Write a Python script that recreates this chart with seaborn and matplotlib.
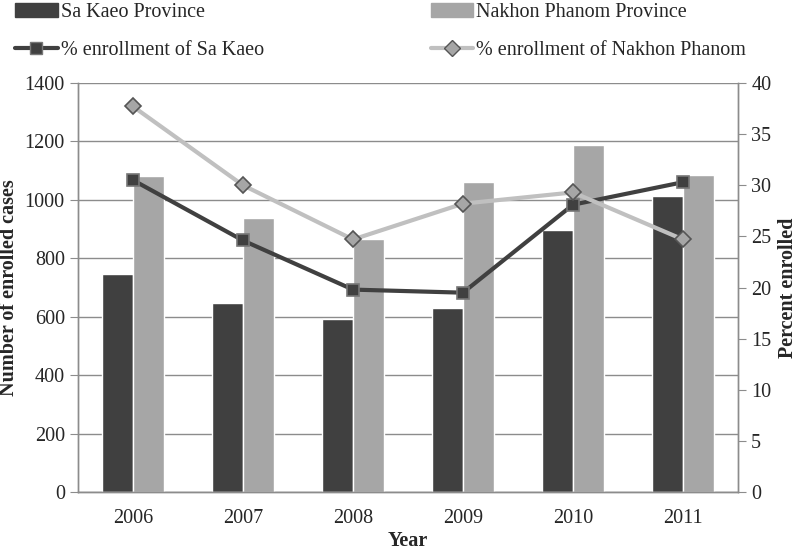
import matplotlib

matplotlib.use("Agg")
import matplotlib.pyplot as plt
import numpy as np
import pandas as pd
import seaborn as sns
from matplotlib.lines import Line2D
from matplotlib.patches import Patch


years = ["2006", "2007", "2008", "2009", "2010", "2011"]
sa_kaeo_cases = [746, 647, 592, 630, 898, 1013]
nakhon_cases = [1083, 938, 866, 1062, 1188, 1086]
sa_kaeo_pct = [30.5, 24.6, 19.8, 19.5, 28.1, 30.3]
nakhon_pct = [37.7, 30.0, 24.7, 28.2, 29.3, 24.7]

bar_names = ["Sa Kaeo Province", "Nakhon Phanom Province"]
line_names = ["% enrollment of Sa Kaeo", "% enrollment of Nakhon Phanom"]

dark = "#404040"
light = "#a6a6a6"
line_light = "#c0c0c0"
grid_col = "#8c8c8c"
fs = 14.5


def main() -> None:
    sns.set_style("white")
    plt.rcParams["font.family"] = ["Liberation Serif", "DejaVu Serif"]

    cases = pd.DataFrame({
        "Year": years * 2,
        "cases": sa_kaeo_cases + nakhon_cases,
        "series": [bar_names[0]] * len(years) + [bar_names[1]] * len(years),
    })
    pct = pd.DataFrame({
        "Year": years * 2,
        "pct": sa_kaeo_pct + nakhon_pct,
        "series": [line_names[0]] * len(years) + [line_names[1]] * len(years),
    })

    fig = plt.figure(figsize=(8, 5.53), dpi=100)
    ax = fig.add_axes([0.0975, 0.11, 0.825, 0.74])

    sns.barplot(data=cases, x="Year", y="cases", hue="series", order=years,
                palette=[dark, light], width=0.57, gap=0, saturation=1,
                errorbar=None, ax=ax, legend=False, zorder=2)
    ax.set_ylim(0, 1400)
    ax.set_yticks(range(0, 1401, 200))
    ax.yaxis.grid(True, color=grid_col, linewidth=1.0, zorder=0)
    ax.set_axisbelow(True)

    ax2 = ax.twinx()
    sns.pointplot(data=pct, x="Year", y="pct", hue="series", order=years,
                  palette=[dark, line_light], markers=["s", "D"],
                  linestyles=["-", "-"], errorbar=None, ax=ax2, legend=False)
    ax2.set_ylim(0, 40)
    ax2.set_yticks(range(0, 41, 5))

    styles = [
        dict(color=dark, mfc=dark, mec="#777777", ms=8),
        dict(color=line_light, mfc=light, mec="#555555", ms=8),
    ]
    for line, st in zip(ax2.lines, styles):
        line.set_color(st["color"])
        line.set_linewidth(3)
        line.set_markerfacecolor(st["mfc"])
        line.set_markeredgecolor(st["mec"])
        line.set_markeredgewidth(1.2)
        line.set_markersize(st["ms"])
    for coll in ax2.collections:
        coll.set_visible(False)

    ax.set_xlim(-0.5, len(years) - 0.5)
    ax.set_xticks(np.arange(-0.5, len(years)), minor=True)
    ax.tick_params(axis="x", which="major", length=0, labelsize=fs, pad=12)
    ax.tick_params(axis="x", which="minor", length=6, color=grid_col, direction="out")
    ax.tick_params(axis="y", length=6, color=grid_col, labelsize=fs, direction="out", left=True)
    ax2.tick_params(axis="y", length=6, color=grid_col, labelsize=fs, direction="out", right=True)

    for a in (ax, ax2):
        a.spines["top"].set_visible(False)
        for side in ("left", "right", "bottom"):
            a.spines[side].set_color(grid_col)
            a.spines[side].set_linewidth(1.0)

    ax.set_xlabel("Year", fontsize=fs, fontweight="bold", labelpad=2)
    ax.set_ylabel("Number of enrolled cases", fontsize=fs, fontweight="bold", labelpad=4)
    ax2.set_ylabel("Percent enrolled", fontsize=fs, fontweight="bold", rotation=90, labelpad=5)

    handles = [
        Patch(facecolor=dark, edgecolor=dark),
        Line2D([0], [0], color=dark, lw=3, marker="s", mfc=dark, mec="#777777", ms=8),
        Patch(facecolor=light, edgecolor=light),
        Line2D([0], [0], color=line_light, lw=3, marker="D", mfc=light, mec="#555555", ms=8),
    ]
    labels = [bar_names[0], line_names[0], bar_names[1], line_names[1]]
    fig.legend(handles, labels, loc="upper left", bbox_to_anchor=(-0.0035, 1.028), ncol=2,
               frameon=False, fontsize=fs, handlelength=2.1, handletextpad=0.15,
               columnspacing=8.3, labelspacing=0.95)

    fig.savefig("out.png", dpi=100)
    plt.close(fig)


if __name__ == "__main__":
    main()
